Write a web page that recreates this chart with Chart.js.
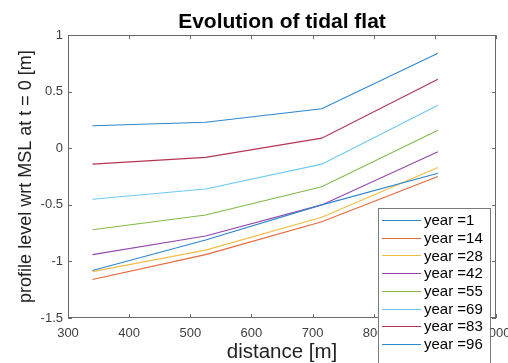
<!DOCTYPE html>
<html>
<head>
<meta charset="utf-8">
<script src="https://cdn.jsdelivr.net/npm/chart.js@4.4.1/dist/chart.umd.min.js"></script>
<style>
  html, body { margin: 0; padding: 0; background: #fff; }
</style>
</head>
<body>
<canvas id="perfil" width="508" height="363"></canvas>
<script>
// distância ao longo do perfil (m) e anos simulados
const distancia = [340, 525, 715, 905];
const anos = [1, 14, 28, 42, 55, 69, 83, 96];

// nível do perfil em cada ano (m, relativo ao NMM em t = 0)
const nivelAno1  = [-1.08, -0.81, -0.50, -0.22];
const nivelAno14 = [-1.16, -0.94, -0.65, -0.25];
const nivelAno28 = [-1.09, -0.90, -0.61, -0.17];
const nivelAno42 = [-0.94, -0.775, -0.50, -0.03];
const nivelAno55 = [-0.72, -0.59, -0.34, 0.16];
const nivelAno69 = [-0.45, -0.36, -0.14, 0.38];
const nivelAno83 = [-0.14, -0.08, 0.09, 0.61];
const nivelAno96 = [0.20, 0.23, 0.35, 0.84];

const ticksX = [300, 400, 500, 600, 700, 800, 900, 1000];
const ticksY = [-1.5, -1, -0.5, 0, 0.5, 1];

const niveis = [nivelAno1, nivelAno14, nivelAno28, nivelAno42, nivelAno55, nivelAno69, nivelAno83, nivelAno96];
// ciclo de cores (volta ao azul no 8º)
const cores = ['#2f86cc', '#e2683a', '#f0bd45', '#9548ab', '#85b94a', '#6ccaf0', '#b53552', '#2f86cc'];

const FONTE = "'Liberation Sans', Arial, Helvetica, sans-serif";
const COR_EIXO = '#6a6a6a';

const datasets = anos.map((ano, i) => ({
    label: 'year =' + ano,
    data: distancia.map((x, j) => ({ x: x, y: niveis[i][j] })),
    borderColor: cores[i],
    backgroundColor: cores[i],
    borderWidth: 1.1,
    pointRadius: 0,
    tension: 0,
    fill: false
}));

// caixa em volta dos eixos + marcas para dentro nos quatro lados
const moldura = {
    id: 'moldura',
    afterDatasetsDraw(chart) {
        const { ctx, chartArea: a, scales } = chart;
        ctx.save();
        ctx.strokeStyle = COR_EIXO;
        ctx.lineWidth = 1;
        ctx.strokeRect(Math.round(a.left) + 0.5, Math.round(a.top) + 0.5,
            Math.round(a.right - a.left) - 1, Math.round(a.bottom - a.top) - 1);
        const t = 4;
        ctx.beginPath();
        ticksX.forEach(v => {
            const px = Math.round(scales.x.getPixelForValue(v)) + 0.5;
            ctx.moveTo(px, a.bottom); ctx.lineTo(px, a.bottom - t);
            ctx.moveTo(px, a.top); ctx.lineTo(px, a.top + t);
        });
        ticksY.forEach(v => {
            const py = Math.round(scales.y.getPixelForValue(v)) + 0.5;
            ctx.moveTo(a.left, py); ctx.lineTo(a.left + t, py);
            ctx.moveTo(a.right, py); ctx.lineTo(a.right - t, py);
        });
        ctx.stroke();
        ctx.restore();
    }
};

// legenda dentro do gráfico, canto inferior direito
const legenda = {
    id: 'legenda',
    afterDraw(chart) {
        const { ctx, chartArea: a } = chart;
        const x0 = Math.round(a.right) - 118, y0 = 208, w = 112, passo = 17.7;
        ctx.save();
        ctx.fillStyle = '#fff';
        ctx.fillRect(x0, y0, w, 200);
        ctx.strokeStyle = '#7a7a7a';
        ctx.lineWidth = 1;
        ctx.strokeRect(x0 + 0.5, y0 + 0.5, w, 200);
        ctx.font = '15px ' + FONTE;
        ctx.textBaseline = 'middle';
        ctx.textAlign = 'left';
        chart.data.datasets.forEach((ds, i) => {
            const y = y0 + 12 + i * passo;
            ctx.strokeStyle = ds.borderColor;
            ctx.beginPath();
            ctx.moveTo(x0 + 4, Math.round(y) + 0.5);
            ctx.lineTo(x0 + 43, Math.round(y) + 0.5);
            ctx.stroke();
            ctx.fillStyle = '#000';
            ctx.fillText(ds.label, x0 + 46, y + 1);
        });
        ctx.restore();
    }
};

new Chart(document.getElementById('perfil'), {
    type: 'line',
    data: { datasets: datasets },
    options: {
        responsive: false,
        animation: false,
        devicePixelRatio: 1,
        layout: { padding: { left: 0, right: 12, top: 0, bottom: 0 } },
        plugins: {
            legend: { display: false },
            tooltip: { enabled: false },
            title: {
                display: true,
                text: 'Evolution of tidal flat',
                fullSize: false,
                color: '#000',
                font: { family: FONTE, size: 21, weight: 'bold' },
                padding: { top: 10, bottom: 0 }
            }
        },
        scales: {
            x: {
                type: 'linear',
                min: 300,
                max: 1000,
                afterFit: s => { s.height = 45; s.paddingLeft = 0; s.paddingRight = 0; },
                afterBuildTicks: s => { s.ticks = ticksX.map(v => ({ value: v })); },
                grid: { display: false, drawTicks: false },
                border: { display: false },
                ticks: {
                    color: '#404040',
                    padding: 8,
                    maxRotation: 0,
                    font: { family: FONTE, size: 13 },
                    callback: v => String(v)
                },
                title: {
                    display: true,
                    text: 'distance [m]',
                    color: '#222',
                    font: { family: FONTE, size: 20.5 },
                    padding: { top: 0, bottom: -2 }
                }
            },
            y: {
                min: -1.5,
                max: 1,
                afterFit: s => { s.width = 68; s.paddingTop = 0; s.paddingBottom = 0; },
                afterBuildTicks: s => { s.ticks = ticksY.map(v => ({ value: v })); },
                grid: { display: false, drawTicks: false },
                border: { display: false },
                ticks: {
                    color: '#404040',
                    padding: 5,
                    font: { family: FONTE, size: 13 },
                    callback: v => String(v)
                },
                title: {
                    display: true,
                    text: 'profile level wrt MSL at t = 0 [m]',
                    color: '#222',
                    font: { family: FONTE, size: 18 },
                    padding: { top: 15, bottom: 0 }
                }
            }
        }
    },
    plugins: [moldura, legenda]
});
</script>
</body>
</html>
